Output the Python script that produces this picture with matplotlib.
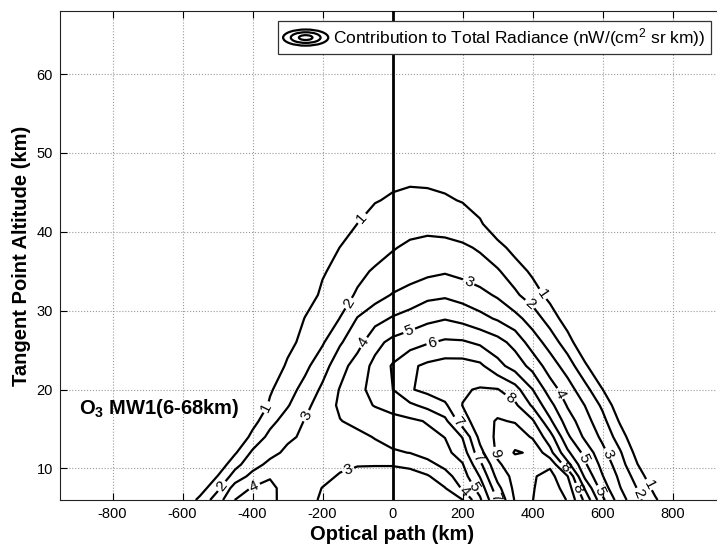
import numpy as np
import matplotlib
matplotlib.use("Agg")
import matplotlib.pyplot as plt
from matplotlib.patches import Ellipse
from matplotlib.legend_handler import HandlerBase

plt.rcParams['font.family'] = ['Liberation Sans', 'DejaVu Sans']
plt.rcParams['mathtext.fontset'] = 'custom'
plt.rcParams['mathtext.rm'] = 'Liberation Sans'
plt.rcParams['mathtext.it'] = 'Liberation Sans:italic'
plt.rcParams['mathtext.bf'] = 'Liberation Sans:bold'
plt.rcParams['mathtext.default'] = 'regular'
plt.rcParams['axes.unicode_minus'] = False

# ---- grid: optical path (columns) and tangent altitude (rows), km ----
path_km = np.arange(-650, 851, 50)
altitude_km = [6, 7.5, 9, 10.5, 12, 14, 16, 18, 20, 23, 26, 29, 32, 35, 38, 41, 44, 47, 50, 68]

# ---- contribution to total radiance, nW/(cm^2 sr km), one list per altitude ----
z_06_0 = [0, 0.15, 1.27, 2.53, 4.01, 4.23, 4.14, 3.78, 3.15, 2.94, 2.85, 2.77, 2.68, 2.6, 2.7, 2.8,
          2.9, 2.97, 4.83, 7.05, 9.09, 9.98, 10.6, 9.95, 7.75, 5.25, 3.45, 2.26, 1.16, 0.05, 0]
z_07_5 = [0, 0, 0.5, 1.79, 3.44, 4.08, 4.15, 3.76, 3.32, 2.98, 2.92, 2.84, 2.77, 2.7, 2.79, 2.88,
          2.96, 4.11, 5.4, 7.68, 9.27, 9.93, 10.5, 9.6, 6.88, 4.5, 3.05, 1.95, 0.7, 0, 0]
z_09_0 = [0, 0, 0, 1.02, 2.43, 3.3, 3.95, 3.7, 3.45, 3.2, 2.93, 2.6, 2.6, 2.6, 2.65, 2.9,
          3.6, 4.55, 6.05, 8.33, 9.33, 9.89, 10.35, 9.05, 5.78, 4.05, 2.78, 1.55, 0.2, 0, 0]
z_10_5 = [0, 0, 0, 0.25, 1.67, 2.62, 3.25, 3.5, 3.45, 3.3, 3.15, 3.08, 3.06, 3.06, 3.2, 3.7,
          4.27, 4.93, 6.75, 8.85, 9.5, 9.85, 9.8, 7.33, 5.15, 3.68, 2.44, 1.02, 0, 0, 0]
z_12_0 = [0, 0, 0, 0, 0.88, 2.17, 2.72, 3.2, 3.4, 3.5, 3.55, 3.6, 3.75, 3.9, 4.02, 4.37,
          4.74, 5.43, 7.67, 9.2, 10.08, 9.9, 8.33, 6.22, 4.67, 3.29, 2.12, 0.63, 0, 0, 0]
z_14_0 = [0, 0, 0, 0, 0, 1.29, 2.28, 2.83, 3.16, 3.38, 3.6, 3.82, 4.04, 4.29, 4.52, 4.76,
          5.02, 6.05, 8.31, 9.2, 9.6, 8.89, 7.44, 5.2, 3.8, 2.78, 1.5, 0.13, 0, 0, 0]
z_16_0 = [0, 0, 0, 0, 0, 0.63, 1.7, 2.44, 3.05, 3.51, 3.97, 4.19, 4.4, 4.61, 4.81, 5.07,
          5.73, 7.59, 8.54, 9.1, 8.92, 8.15, 6.19, 4.5, 3.4, 2.33, 0.88, 0, 0, 0, 0]
z_18_0 = [0, 0, 0, 0, 0, 0, 1.15, 1.92, 2.73, 3.49, 4.15, 4.61, 5.06, 5.44, 5.81, 6.28,
          6.83, 8.02, 8.38, 8.58, 8.2, 6.86, 5.33, 3.91, 2.98, 1.81, 0.3, 0, 0, 0, 0]
z_20_0 = [0, 0, 0, 0, 0, 0, 0.88, 1.6, 2.33, 3.18, 4.06, 4.71, 5.35, 5.98, 6.91, 7.28,
          7.59, 7.9, 8.08, 8.05, 7.4, 6.02, 4.5, 3.45, 2.38, 1.02, 0, 0, 0, 0, 0]
z_23_0 = [0, 0, 0, 0, 0, 0, 0.13, 1.18, 1.76, 2.6, 3.6, 4.46, 5.25, 6.09, 6.82, 7.2,
          7.4, 7.4, 7.2, 6.33, 5.57, 4.67, 3.5, 2.56, 1.17, 0, 0, 0, 0, 0, 0]
z_26_0 = [0, 0, 0, 0, 0, 0, 0, 0.63, 1.37, 1.89, 2.89, 3.63, 4.7, 5.26, 5.58, 5.91,
          6.15, 6.12, 5.82, 5.36, 4.67, 3.5, 2.6, 1.43, 0.13, 0, 0, 0, 0, 0, 0]
z_29_0 = [0, 0, 0, 0, 0, 0, 0, 0, 1.05, 1.52, 2.02, 3.06, 3.65, 4.1, 4.4, 4.75,
          4.95, 4.7, 4.3, 3.89, 3.33, 2.56, 1.55, 0.5, 0, 0, 0, 0, 0, 0, 0]
z_32_0 = [0, 0, 0, 0, 0, 0, 0, 0, 0.38, 1.22, 1.65, 2.1, 2.6, 3.06, 3.38, 3.75,
          3.85, 3.6, 3.3, 2.86, 2.17, 1.51, 0.68, 0, 0, 0, 0, 0, 0, 0, 0]
z_35_0 = [0, 0, 0, 0, 0, 0, 0, 0, 0, 0.88, 1.38, 1.79, 2.1, 2.32, 2.53, 2.74,
          2.9, 2.7, 2.4, 2.1, 1.51, 0.8, 0, 0, 0, 0, 0, 0, 0, 0, 0]
z_38_0 = [0, 0, 0, 0, 0, 0, 0, 0, 0, 0, 1.03, 1.33, 1.64, 1.94, 2.15, 2.3,
          2.3, 2.15, 1.89, 1.37, 0.63, 0, 0, 0, 0, 0, 0, 0, 0, 0, 0]
z_41_0 = [0, 0, 0, 0, 0, 0, 0, 0, 0, 0, 0, 1.02, 1.35, 1.55, 1.7, 1.7,
          1.6, 1.45, 1.15, 0.25, 0, 0, 0, 0, 0, 0, 0, 0, 0, 0, 0]
z_44_0 = [0, 0, 0, 0, 0, 0, 0, 0, 0, 0, 0, 0.2, 0.95, 1.1, 1.2, 1.18,
          1.1, 0.95, 0.5, 0, 0, 0, 0, 0, 0, 0, 0, 0, 0, 0, 0]
z_47_0 = [0, 0, 0, 0, 0, 0, 0, 0, 0, 0, 0, 0.3, 0.6, 0.8, 0.85, 0.83,
          0.75, 0.6, 0.3, 0, 0, 0, 0, 0, 0, 0, 0, 0, 0, 0, 0]
z_50_0 = [0, 0, 0, 0, 0, 0, 0, 0, 0, 0, 0, 0.1, 0.3, 0.4, 0.45, 0.45,
          0.4, 0.3, 0.1, 0, 0, 0, 0, 0, 0, 0, 0, 0, 0, 0, 0]
z_68_0 = [0] * 31

radiance = np.array([z_06_0, z_07_5, z_09_0, z_10_5, z_12_0, z_14_0, z_16_0, z_18_0, z_20_0,
                     z_23_0, z_26_0, z_29_0, z_32_0, z_35_0, z_38_0, z_41_0, z_44_0, z_47_0,
                     z_50_0, z_68_0], dtype=float)

levels = [1, 2, 3, 4, 5, 6, 7, 8, 9, 10]
x_ticks = [-800, -600, -400, -200, 0, 200, 400, 600, 800]
y_ticks = [10, 20, 30, 40, 50, 60]

# where the in-line level labels sit along the contours
label_spots = [(-90, 41.8), (-361, 17.8), (432, 32.2), (735, 8),
               (-127, 31), (-489, 7.8), (390, 30.7), (714, 7),
               (216, 33.5), (-247, 16.7), (-128, 10), (613, 11.8),
               (-76, 25.8), (-390, 7.2), (471, 19.3), (210, 7.2),
               (44, 27.9), (547, 11.3), (238, 7.8),
               (114, 26), (181, 15.7), (585, 7),
               (343, 19.3), (247, 11.4),
               (304, 6.5), (523, 7.3),
               (290, 11.9), (490, 10)]


class RingsHandler(HandlerBase):
    """Legend key drawn as three concentric contour rings."""
    def create_artists(self, legend, orig_handle, xdescent, ydescent,
                       width, height, fontsize, trans):
        cx = 0.5 * width - xdescent
        cy = 0.5 * height - ydescent
        rings = []
        for f in (1.0, 0.66, 0.3):
            rings.append(Ellipse((cx, cy), width * f, height * f, fill=False,
                                 edgecolor='k', linewidth=1.6, transform=trans))
        return rings


fig = plt.figure(figsize=(7.17, 5.44), dpi=100)
ax = fig.add_axes([60 / 717, 44 / 544, 665 / 717, 489 / 544])

ax.set_xlim(-950, 950)
ax.set_ylim(6, 68)
ax.set_xticks(x_ticks)
ax.set_yticks(y_ticks)
ax.grid(True, linestyle=':', color='#9a9a9a', linewidth=0.8)
ax.set_axisbelow(True)

cs = ax.contour(path_km, altitude_km, radiance, levels=levels,
                colors='k', linewidths=1.6)
ax.clabel(cs, fmt='%d', fontsize=11, inline=True, inline_spacing=2,
          manual=label_spots)

ax.axvline(0, color='k', linewidth=2.0, zorder=3)

ax.text(-897, 17.6, r'O$_\mathbf{3}$ MW1(6-68km)', fontsize=14.5,
        fontweight='bold', va='center', ha='left')

ax.set_xlabel('Optical path (km)', fontsize=14.5, fontweight='bold', labelpad=3)
ax.set_ylabel('Tangent Point Altitude (km)', fontsize=14.5, fontweight='bold', labelpad=4)

ax.tick_params(direction='in', length=5, top=True, right=True,
               labelsize=10.5, pad=5)
for side in ('left', 'bottom', 'top', 'right'):
    ax.spines[side].set_linewidth(0.8)
    ax.spines[side].set_color('#222222')

proxy = Ellipse((0, 0), 1, 1)
leg = ax.legend([proxy], [r'Contribution to Total Radiance (nW/(cm$^2$ sr km))'],
                handler_map={proxy: RingsHandler()},
                loc='upper right', bbox_to_anchor=(711 / 717, 1 - 21 / 544),
                bbox_transform=fig.transFigure, fontsize=12.5, frameon=True,
                fancybox=False, edgecolor='#333333', framealpha=1,
                borderpad=0.3, handlelength=2.6, handleheight=1.05,
                handletextpad=0.3, borderaxespad=0)
leg.get_frame().set_linewidth(0.9)

fig.savefig('out.png', dpi=100)
